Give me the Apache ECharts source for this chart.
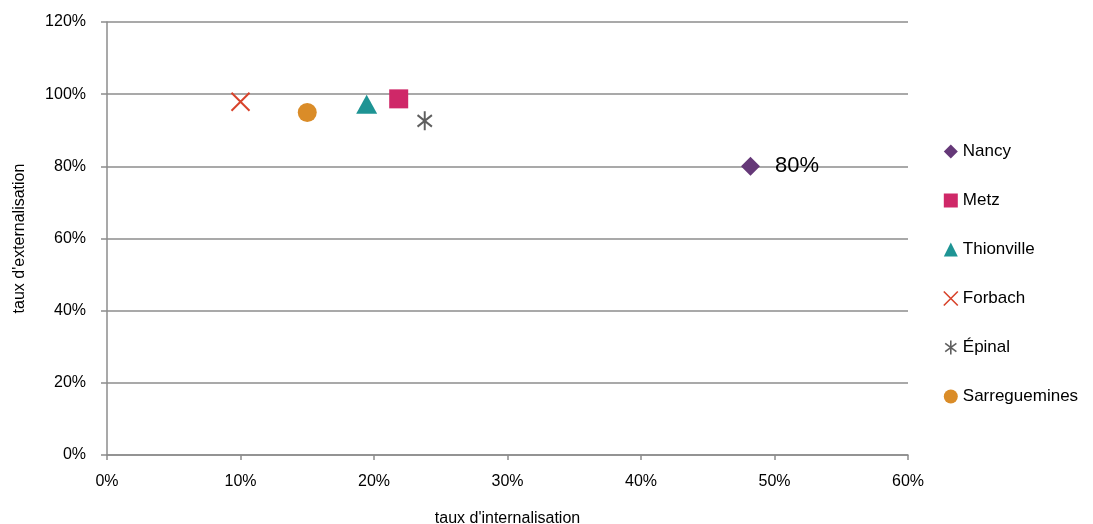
<!DOCTYPE html>
<html>
<head>
<meta charset="utf-8">
<script src="https://cdn.jsdelivr.net/npm/echarts@6/dist/echarts.min.js"></script>
<style>html,body{margin:0;padding:0;background:#fff}#c{width:1093px;height:524px}</style>
</head>
<body>
<div id="c"></div>
<script>
var seriesNames = ['Nancy', 'Metz', 'Thionville', 'Forbach', 'Épinal', 'Sarreguemines'];
var internalisation = [48.2, 21.85, 19.45, 10.0, 23.8, 15.0];
var externalisation = [80.0, 98.7, 97.2, 97.9, 92.6, 94.9];
var colors = ['#653878', '#cf2868', '#1e9494', '#d8432b', '#5f5f5f', '#da8c28'];
var xTicks = [0, 10, 20, 30, 40, 50, 60];
var yTicks = [0, 20, 40, 60, 80, 100, 120];

var XPATH = 'path://M0,0L10,10M10,0L0,10';
var STARPATH = 'path://M1,2L9,8M9,2L1,8M5,0L5,10';
var symbols = ['diamond', 'rect', 'triangle', XPATH, STARPATH, 'circle'];
var sizes = [[19, 19], [19, 19], [21, 19], [18, 18], [18, 19], [19, 19]];
var font = 'Liberation Sans';
var gridColor = '#8c8c8c';

var chart = echarts.init(document.getElementById('c'));
var series = seriesNames.map(function (n, i) {
  var stroke = (i === 3 || i === 4);
  var s = {
    name: n,
    type: 'scatter',
    data: [[internalisation[i], externalisation[i]]],
    symbol: symbols[i],
    symbolSize: sizes[i],
    symbolKeepAspect: true,
    itemStyle: stroke ? {color: 'rgba(0,0,0,0)', borderColor: colors[i], borderWidth: 2, opacity: 1} : {color: colors[i], opacity: 1},
    emphasis: {disabled: true}
  };
  if (i === 0) {
    s.label = {
      show: true, position: 'right', distance: 15,
      formatter: function (p) { return Math.round(p.value[1]) + '%'; },
      fontFamily: font, fontSize: 22, color: '#000', textBorderWidth: 0
    };
  }
  return s;
});

chart.setOption({
  animation: false,
  color: colors,
  grid: {left: 107, right: 185, top: 22, bottom: 69, containLabel: false, outerBoundsMode: 'none'},
  legend: {
    orient: 'vertical', left: 938, top: 138,
    itemGap: 32, itemWidth: 14, itemHeight: 14,
    textStyle: {fontFamily: font, fontSize: 17, color: '#000'},
    data: seriesNames.map(function (n, i) {
      var stroke = (i === 3 || i === 4);
      return {
        name: n, icon: symbols[i],
        itemStyle: stroke ? {color: 'rgba(0,0,0,0)', borderColor: colors[i], borderWidth: 1.6, opacity: 1} : {color: colors[i], opacity: 1}
      };
    })
  },
  xAxis: {
    type: 'value', min: xTicks[0], max: xTicks[xTicks.length - 1], interval: 10,
    name: "taux d'internalisation", nameLocation: 'middle', nameGap: 56,
    nameTextStyle: {fontFamily: font, fontSize: 16, color: '#000'},
    axisLine: {show: true, lineStyle: {color: gridColor, width: 1.5}},
    axisTick: {show: true, length: 5, lineStyle: {color: gridColor, width: 1.5}},
    axisLabel: {fontFamily: font, fontSize: 16, color: '#000', margin: 19, formatter: '{value}%'},
    splitLine: {show: false}
  },
  yAxis: {
    type: 'value', min: yTicks[0], max: yTicks[yTicks.length - 1], interval: 20,
    name: "taux d'externalisation", nameLocation: 'middle', nameGap: 79, nameRotate: 90,
    nameTextStyle: {fontFamily: font, fontSize: 16, color: '#000'},
    axisLine: {show: true, lineStyle: {color: gridColor, width: 1.5}},
    axisTick: {show: true, length: 6, lineStyle: {color: gridColor, width: 1.5}},
    axisLabel: {fontFamily: font, fontSize: 16, color: '#000', margin: 21, formatter: '{value}%'},
    splitLine: {show: true, lineStyle: {color: gridColor, width: 1.5}}
  },
  series: series
});
</script>
</body>
</html>
